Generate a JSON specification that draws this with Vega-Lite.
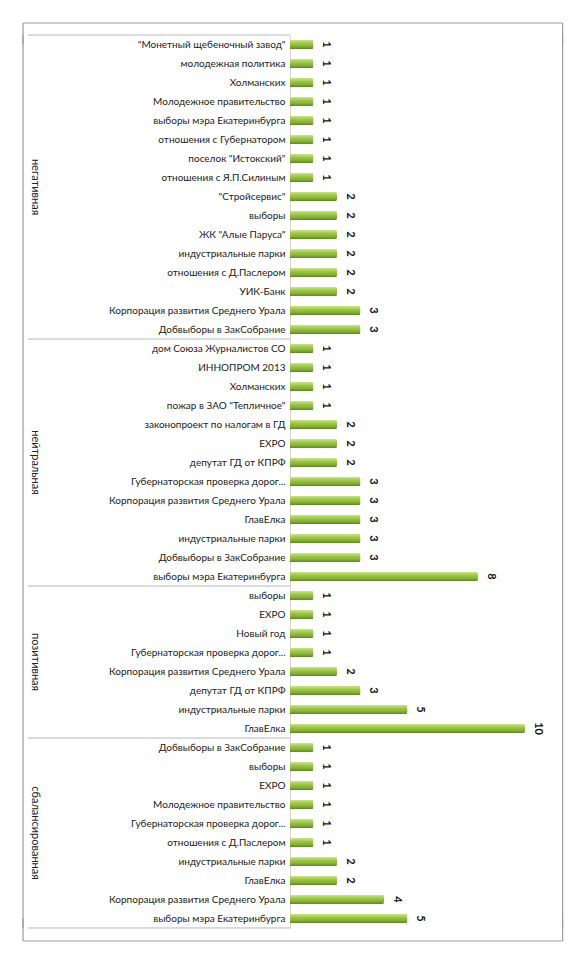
{
  "$schema": "https://vega.github.io/schema/vega-lite/v6.json",
  "background": "white",
  "padding": {"left": 22, "top": 22, "right": 9, "bottom": 10},
  "bounds": "flush",
  "data": {"values": [
    {"group": "негативная", "label": "\"Монетный щебеночный завод\"", "value": 1},
    {"group": "негативная", "label": "молодежная политика", "value": 1},
    {"group": "негативная", "label": "Холманских", "value": 1},
    {"group": "негативная", "label": "Молодежное правительство", "value": 1},
    {"group": "негативная", "label": "выборы мэра Екатеринбурга", "value": 1},
    {"group": "негативная", "label": "отношения с Губернатором", "value": 1},
    {"group": "негативная", "label": "поселок \"Истокский\"", "value": 1},
    {"group": "негативная", "label": "отношения с Я.П.Силиным", "value": 1},
    {"group": "негативная", "label": "\"Стройсервис\"", "value": 2},
    {"group": "негативная", "label": "выборы", "value": 2},
    {"group": "негативная", "label": "ЖК \"Алые Паруса\"", "value": 2},
    {"group": "негативная", "label": "индустриальные парки", "value": 2},
    {"group": "негативная", "label": "отношения с Д.Паслером", "value": 2},
    {"group": "негативная", "label": "УИК-Банк", "value": 2},
    {"group": "негативная", "label": "Корпорация развития Среднего Урала", "value": 3},
    {"group": "негативная", "label": "Добвыборы в ЗакСобрание", "value": 3},
    {"group": "нейтральная", "label": "дом Союза Журналистов СО", "value": 1},
    {"group": "нейтральная", "label": "ИННОПРОМ 2013", "value": 1},
    {"group": "нейтральная", "label": "Холманских", "value": 1},
    {"group": "нейтральная", "label": "пожар в ЗАО \"Тепличное\"", "value": 1},
    {"group": "нейтральная", "label": "законопроект по налогам в ГД", "value": 2},
    {"group": "нейтральная", "label": "EXPO", "value": 2},
    {"group": "нейтральная", "label": "депутат ГД от КПРФ", "value": 2},
    {"group": "нейтральная", "label": "Губернаторская проверка дорог...", "value": 3},
    {"group": "нейтральная", "label": "Корпорация развития Среднего Урала", "value": 3},
    {"group": "нейтральная", "label": "ГлавЕлка", "value": 3},
    {"group": "нейтральная", "label": "индустриальные парки", "value": 3},
    {"group": "нейтральная", "label": "Добвыборы в ЗакСобрание", "value": 3},
    {"group": "нейтральная", "label": "выборы мэра Екатеринбурга", "value": 8},
    {"group": "позитивная", "label": "выборы", "value": 1},
    {"group": "позитивная", "label": "EXPO", "value": 1},
    {"group": "позитивная", "label": "Новый год", "value": 1},
    {"group": "позитивная", "label": "Губернаторская проверка дорог...", "value": 1},
    {"group": "позитивная", "label": "Корпорация развития Среднего Урала", "value": 2},
    {"group": "позитивная", "label": "депутат ГД от КПРФ", "value": 3},
    {"group": "позитивная", "label": "индустриальные парки", "value": 5},
    {"group": "позитивная", "label": "ГлавЕлка", "value": 10},
    {"group": "сбалансированная", "label": "Добвыборы в ЗакСобрание", "value": 1},
    {"group": "сбалансированная", "label": "выборы", "value": 1},
    {"group": "сбалансированная", "label": "EXPO", "value": 1},
    {"group": "сбалансированная", "label": "Молодежное правительство", "value": 1},
    {"group": "сбалансированная", "label": "Губернаторская проверка дорог...", "value": 1},
    {"group": "сбалансированная", "label": "отношения с Д.Паслером", "value": 1},
    {"group": "сбалансированная", "label": "индустриальные парки", "value": 2},
    {"group": "сбалансированная", "label": "ГлавЕлка", "value": 2},
    {"group": "сбалансированная", "label": "Корпорация развития Среднего Урала", "value": 4},
    {"group": "сбалансированная", "label": "выборы мэра Екатеринбурга", "value": 5}
  ]},
  "facet": {
    "row": {
      "field": "group",
      "type": "nominal",
      "sort": ["негативная", "нейтральная", "позитивная", "сбалансированная"],
      "header": {"title": null, "labels": false}
    }
  },
  "spacing": 0,
  "resolve": {"scale": {"y": "independent"}},
  "spec": {
    "width": 274,
    "height": {"step": 19},
    "layer": [
      {
        "mark": {
          "type": "bar",
          "size": 9.5,
          "cornerRadiusEnd": 2,
          "color": {
            "gradient": "linear",
            "x1": 0, "y1": 0, "x2": 0, "y2": 1,
            "stops": [
              {"offset": 0, "color": "#cfe596"},
              {"offset": 0.35, "color": "#a2ca4c"},
              {"offset": 0.75, "color": "#80ac30"},
              {"offset": 1, "color": "#587f1d"}
            ]
          }
        },
        "encoding": {
          "x": {
            "field": "value",
            "type": "quantitative",
            "scale": {"domain": [0, 11.66], "nice": false},
            "axis": null
          },
          "y": {
            "field": "label",
            "type": "nominal",
            "sort": null,
            "title": null,
            "scale": {"paddingInner": 0, "paddingOuter": 0},
            "axis": {
              "ticks": false,
              "domain": true,
              "domainColor": "#d4d4d4",
              "labelFont": "Lato",
              "labelFontSize": 10,
              "labelColor": "#1a1a1a",
              "labelPadding": 5,
              "labelLimit": 230
            }
          }
        }
      },
      {
        "mark": {
          "type": "text",
          "angle": 90,
          "dy": -13,
          "align": "center",
          "baseline": "middle",
          "font": "Lato",
          "fontSize": 11,
          "fontWeight": "bold",
          "color": "#111111"
        },
        "encoding": {
          "x": {"field": "value", "type": "quantitative"},
          "y": {"field": "label", "type": "nominal", "sort": null},
          "text": {"field": "value", "type": "quantitative"}
        }
      },
      {
        "transform": [
          {"window": [{"op": "row_number", "as": "rn"}], "groupby": ["group"]},
          {"joinaggregate": [{"op": "count", "as": "n"}], "groupby": ["group"]},
          {"filter": "datum.n % 2 == 0 && datum.rn == datum.n / 2"}
        ],
        "mark": {
          "type": "text",
          "clip": false,
          "angle": 90,
          "align": "center",
          "baseline": "middle",
          "font": "Lato",
          "fontSize": 11,
          "color": "#222222"
        },
        "encoding": {
          "x": {"datum": -10.85},
          "y": {"field": "label", "type": "nominal", "sort": null, "bandPosition": 1},
          "text": {"field": "group", "type": "nominal"}
        }
      },
      {
        "transform": [
          {"window": [{"op": "row_number", "as": "rn"}], "groupby": ["group"]},
          {"joinaggregate": [{"op": "count", "as": "n"}], "groupby": ["group"]},
          {"filter": "datum.n % 2 == 1 && datum.rn == (datum.n + 1) / 2"}
        ],
        "mark": {
          "type": "text",
          "clip": false,
          "angle": 90,
          "align": "center",
          "baseline": "middle",
          "font": "Lato",
          "fontSize": 11,
          "color": "#222222"
        },
        "encoding": {
          "x": {"datum": -10.85},
          "y": {"field": "label", "type": "nominal", "sort": null},
          "text": {"field": "group", "type": "nominal"}
        }
      },
      {
        "transform": [
          {"window": [{"op": "row_number", "as": "rn"}], "groupby": ["group"]},
          {"filter": "datum.rn == 1"}
        ],
        "mark": {"type": "rule", "clip": false, "color": "#b8b8b8", "strokeWidth": 1},
        "encoding": {
          "x": {"datum": -11.15},
          "x2": {"datum": 0},
          "y": {"field": "label", "type": "nominal", "sort": null, "bandPosition": 0.001}
        }
      },
      {
        "mark": {"type": "rule", "clip": false, "color": "#9c9c9c", "strokeWidth": 1.2},
        "encoding": {
          "x": {"datum": -11.36},
          "y": {"field": "label", "type": "nominal", "sort": null, "bandPosition": 0.001},
          "y2": {"field": "label", "bandPosition": 0.999}
        }
      },
      {
        "mark": {"type": "rule", "clip": false, "color": "#9c9c9c", "strokeWidth": 1.2},
        "encoding": {
          "x": {"datum": 11.6},
          "y": {"field": "label", "type": "nominal", "sort": null, "bandPosition": 0.001},
          "y2": {"field": "label", "bandPosition": 0.999}
        }
      },
      {
        "transform": [
          {"window": [{"op": "row_number", "as": "rn"}], "groupby": ["group"]},
          {"filter": "datum.rn == 1 && datum.group == 'негативная'"}
        ],
        "mark": {"type": "rule", "clip": false, "color": "#9c9c9c", "strokeWidth": 1.2},
        "encoding": {
          "x": {"datum": -11.36},
          "x2": {"datum": 11.6},
          "y": {"field": "label", "type": "nominal", "sort": null, "bandPosition": -0.632}
        }
      },
      {
        "transform": [
          {"window": [{"op": "row_number", "as": "rn"}], "groupby": ["group"]},
          {"filter": "datum.rn == 1 && datum.group == 'негативная'"}
        ],
        "mark": {"type": "rule", "clip": false, "color": "#9c9c9c", "strokeWidth": 1.2},
        "encoding": {
          "x": {"datum": -11.36},
          "y": {"field": "label", "type": "nominal", "sort": null, "bandPosition": -0.632},
          "y2": {"field": "label", "bandPosition": 0.5}
        }
      },
      {
        "transform": [
          {"window": [{"op": "row_number", "as": "rn"}], "groupby": ["group"]},
          {"filter": "datum.rn == 1 && datum.group == 'негативная'"}
        ],
        "mark": {"type": "rule", "clip": false, "color": "#9c9c9c", "strokeWidth": 1.2},
        "encoding": {
          "x": {"datum": 11.6},
          "y": {"field": "label", "type": "nominal", "sort": null, "bandPosition": -0.632},
          "y2": {"field": "label", "bandPosition": 0.5}
        }
      },
      {
        "transform": [
          {"window": [{"op": "row_number", "as": "rn"}], "groupby": ["group"]},
          {"joinaggregate": [{"op": "count", "as": "n"}], "groupby": ["group"]},
          {"filter": "datum.rn == datum.n && datum.group == 'сбалансированная'"}
        ],
        "mark": {"type": "rule", "clip": false, "color": "#b8b8b8", "strokeWidth": 1},
        "encoding": {
          "x": {"datum": -11.15},
          "x2": {"datum": 0},
          "y": {"field": "label", "type": "nominal", "sort": null, "bandPosition": 0.999}
        }
      },
      {
        "transform": [
          {"window": [{"op": "row_number", "as": "rn"}], "groupby": ["group"]},
          {"joinaggregate": [{"op": "count", "as": "n"}], "groupby": ["group"]},
          {"filter": "datum.rn == datum.n && datum.group == 'сбалансированная'"}
        ],
        "mark": {"type": "rule", "clip": false, "color": "#9c9c9c", "strokeWidth": 1.2},
        "encoding": {
          "x": {"datum": -11.36},
          "x2": {"datum": 11.6},
          "y": {"field": "label", "type": "nominal", "sort": null, "bandPosition": 1.684}
        }
      },
      {
        "transform": [
          {"window": [{"op": "row_number", "as": "rn"}], "groupby": ["group"]},
          {"joinaggregate": [{"op": "count", "as": "n"}], "groupby": ["group"]},
          {"filter": "datum.rn == datum.n && datum.group == 'сбалансированная'"}
        ],
        "mark": {"type": "rule", "clip": false, "color": "#9c9c9c", "strokeWidth": 1.2},
        "encoding": {
          "x": {"datum": -11.36},
          "y": {"field": "label", "type": "nominal", "sort": null, "bandPosition": 0.5},
          "y2": {"field": "label", "bandPosition": 1.684}
        }
      },
      {
        "transform": [
          {"window": [{"op": "row_number", "as": "rn"}], "groupby": ["group"]},
          {"joinaggregate": [{"op": "count", "as": "n"}], "groupby": ["group"]},
          {"filter": "datum.rn == datum.n && datum.group == 'сбалансированная'"}
        ],
        "mark": {"type": "rule", "clip": false, "color": "#9c9c9c", "strokeWidth": 1.2},
        "encoding": {
          "x": {"datum": 11.6},
          "y": {"field": "label", "type": "nominal", "sort": null, "bandPosition": 0.5},
          "y2": {"field": "label", "bandPosition": 1.684}
        }
      }
    ]
  },
  "config": {"view": {"stroke": null}, "font": "Lato"}
}
